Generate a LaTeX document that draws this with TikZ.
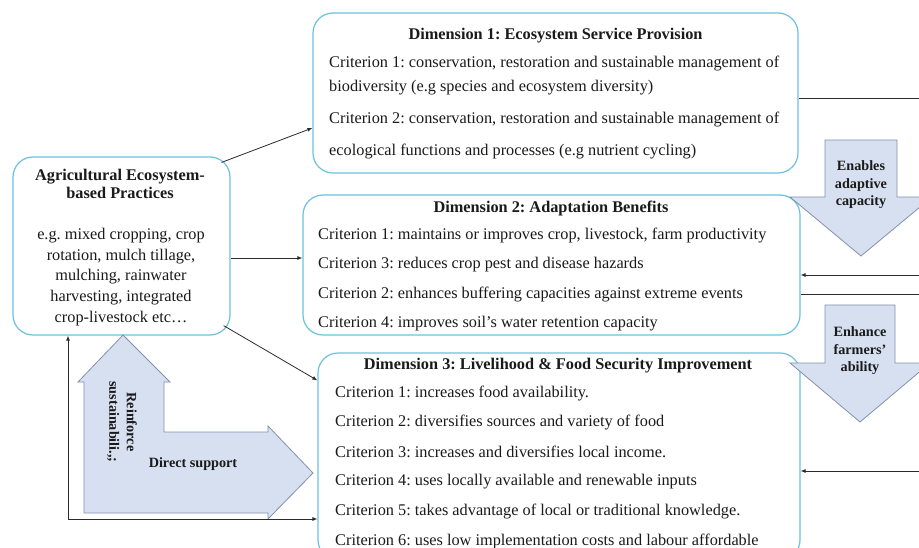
\documentclass[tikz,border=0pt]{standalone}
\usepackage{fontspec}
\setmainfont{Liberation Serif}
\usepackage{tikz}
\usetikzlibrary{positioning, arrows.meta, calc}
\definecolor{boxline}{HTML}{6BC1DF}
\definecolor{blkfill}{HTML}{D7E0F0}
\definecolor{blkline}{HTML}{8391A8}
\definecolor{txt}{HTML}{1A1A1A}
\definecolor{wire}{HTML}{2B2B2B}
\frenchspacing

\begin{document}
\begin{tikzpicture}[x=1pt, y=-1pt,
  box/.style={draw=boxline, line width=1.2pt, rounded corners=20pt, fill=white},
  head/.style={font=\fontsize{16.3}{18}\selectfont\bfseries, text=txt, inner sep=0pt, align=center},
  crit/.style={font=\fontsize{16.3}{18}\selectfont, text=txt, anchor=west, inner sep=0pt},
  blk/.style={draw=blkline, fill=blkfill, line width=0.8pt},
  blklbl/.style={font=\fontsize{14.2}{17.5}\selectfont\bfseries, align=center, text=txt, inner sep=0pt},
  wireln/.style={draw=wire, line width=0.8pt},
  arr/.style={wireln, -{Latex[length=5pt,width=4pt]}}]
  \useasboundingbox (0,0) rectangle (919,548);
  \clip (0,0) rectangle (919,548);
  % boxes
  \node[box, minimum width=217pt, minimum height=178pt] (agri) at (121.5,246) {};
  \node[box, minimum width=485pt, minimum height=160pt] (dim1) at (555.5,93) {};
  \node[box, minimum width=497pt, minimum height=140pt] (dim2) at (551.5,265) {};
  \node[box, minimum width=482pt, minimum height=207pt] (dim3) at (559,456.5) {};
  % practices
  \node[head] (agt) at (120,184) {Agricultural Ecosystem-\\based Practices};
  \node[head, font=\fontsize{16.3}{20.7}\selectfont] (agb) at (121,277)
    {e.g. mixed cropping, crop\\rotation, mulch tillage,\\mulching, rainwater\\harvesting, integrated\\crop-livestock etc\ldots};
  % dimension 1
  \node[head] (d1h) at (555.5,36) {Dimension 1: Ecosystem Service Provision};
  \node[crit] (d1a) at (329,64)  {Criterion 1: conservation, restoration and sustainable management of};
  \node[crit] (d1b) at (329,88)  {biodiversity (e.g species and ecosystem diversity)};
  \node[crit] (d1c) at (329,120) {Criterion 2: conservation, restoration and sustainable management of};
  \node[crit] (d1d) at (329,152) {ecological functions and processes (e.g nutrient cycling)};
  % dimension 2
  \node[head] (d2h) at (551,208) {Dimension 2: Adaptation Benefits};
  \node[crit] (d2a) at (318,236) {Criterion 1: maintains or improves crop, livestock, farm productivity};
  \node[crit] (d2b) at (318,265) {Criterion 3: reduces crop pest and disease hazards};
  \node[crit] (d2c) at (318,295) {Criterion 2: enhances buffering capacities against extreme events};
  \node[crit] (d2d) at (318,324) {Criterion 4: improves soil’s water retention capacity};
  % dimension 3
  \node[head] (d3h) at (558,366) {Dimension 3: Livelihood \& Food Security Improvement};
  \node[crit] (d3a) at (335,394) {Criterion 1: increases food availability.};
  \node[crit] (d3b) at (335,423) {Criterion 2: diversifies sources and variety of food};
  \node[crit] (d3c) at (335,452) {Criterion 3: increases and diversifies local income.};
  \node[crit] (d3d) at (335,482) {Criterion 4: uses locally available and renewable inputs};
  \node[crit] (d3e) at (335,512) {Criterion 5: takes advantage of local or traditional knowledge.};
  \node[crit] (d3f) at (335,541) {Criterion 6: uses low implementation costs and labour affordable};
  % block arrows
  \draw[blk] (825,140) -- (897,140) -- (897,197) -- (932,197) -- (861,256)
    -- (790,197) -- (825,197) -- cycle;
  \node[blklbl] (ena) at (861,185) {Enables\\adaptive\\capacity};
  \draw[blk] (825,305) -- (895,305) -- (895,363) -- (930,363) -- (860,422)
    -- (790,363) -- (825,363) -- cycle;
  \node[blklbl] (enh) at (860,351) {Enhance\\farmers’\\ability};
  \draw[blk] (84,513) -- (84,382) -- (78,382) -- (123,335) -- (170,382) -- (164,382)
    -- (164,432) -- (268,432) -- (268,426) -- (313,473) -- (268,519) -- (268,513) -- cycle;
  \node[blklbl, rotate=-90] (rfs) at (122,422) {Reinforce\\sustainabili.,;};
  \node[blklbl] (dsp) at (193,464) {Direct support};
  % connectors
  \draw[arr] ([shift={(-9,6)}]agri.north east) -- ([shift={(0,35)}]dim1.west);
  \draw[arr] ([shift={(0,12)}]agri.east) -- ([shift={(0,-7)}]dim2.west);
  \draw[arr] ([shift={(-7,-10)}]agri.south east) -- ([shift={(0,28)}]dim3.north west);
  \coordinate (fb) at (68,519);
  \draw[wireln, {Latex[length=5pt,width=4pt]}-{Latex[length=5pt,width=4pt]}]
    (fb |- agri.south) -- (fb) -- (fb -| dim3.west);
  \coordinate (r1) at (925,98);
  \coordinate (r2) at (925,275);
  \coordinate (r3) at (925,294);
  \coordinate (r4) at (925,471);
  \draw[wireln] (r1 -| dim1.east) -- (r1);
  \draw[arr] (r2) -- (r2 -| dim2.east);
  \draw[wireln] (r3 -| dim2.east) -- (r3);
  \draw[arr] (r4) -- (r4 -| dim3.east);
\end{tikzpicture}
\end{document}
